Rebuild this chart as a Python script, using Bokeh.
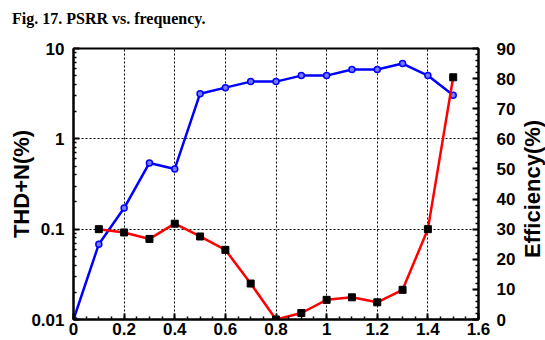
from bokeh.plotting import figure
from bokeh.models import Range1d, LinearAxis, FixedTicker, ColumnDataSource, LinearScale, Div
from bokeh.layouts import row, column
from bokeh.embed import file_html
from bokeh.resources import INLINE

# ---- data ----
title_text = "Fig. 17. PSRR vs. frequency."
x_eff = [0.0, 0.1, 0.2, 0.3, 0.4, 0.5, 0.6, 0.7, 0.8, 0.9, 1.0, 1.1, 1.2, 1.3, 1.4, 1.5]
eff = [0, 25, 37, 52, 50, 75, 77, 79, 79, 81, 81, 83, 83, 85, 81, 74.5]
x_thd = [0.1, 0.2, 0.3, 0.4, 0.5, 0.6, 0.7, 0.8, 0.9, 1.0, 1.1, 1.2, 1.3, 1.4, 1.5]
thd = [0.1, 0.092, 0.078, 0.115, 0.083, 0.059, 0.025, 0.01, 0.0118, 0.0165,
       0.0176, 0.0155, 0.0213, 0.1, 4.8]
x_ticks = [0, 0.2, 0.4, 0.6, 0.8, 1.0, 1.2, 1.4, 1.6]
x_tick_labels = ["0", "0.2", "0.4", "0.6", "0.8", "1", "1.2", "1.4", "1.6"]
y_ticks = [0.01, 0.1, 1, 10]
y_tick_labels = ["0.01", "0.1", "1", "10"]
eff_ticks = [0, 10, 20, 30, 40, 50, 60, 70, 80, 90]
y_label = "THD+N(%)"
eff_label = "Efficiency(%)"

FONT = "Liberation Sans"

p = figure(width=520, height=308, output_backend="svg", toolbar_location=None,
           x_range=Range1d(0, 1.6), y_range=Range1d(0.01, 10), y_axis_type="log",
           min_border_left=73, min_border_right=42, min_border_top=16, min_border_bottom=21)
p.extra_y_ranges = {"eff": Range1d(0, 90)}
p.extra_y_scales = {"eff": LinearScale()}

p.outline_line_color = "black"
p.outline_line_width = 2
p.background_fill_color = "white"
p.border_fill_color = "white"

def style_axis(ax):
    ax.axis_line_width = 2
    ax.axis_line_color = "black"
    ax.major_tick_in = 6
    ax.major_tick_out = 0
    ax.minor_tick_in = 3
    ax.minor_tick_out = 0
    ax.major_tick_line_width = 2
    ax.minor_tick_line_width = 1.5
    ax.major_tick_line_color = "black"
    ax.minor_tick_line_color = "black"
    ax.major_label_text_font = FONT
    ax.major_label_text_font_style = "bold"
    ax.major_label_text_font_size = "17px"
    ax.major_label_text_color = "black"
    ax.axis_label_text_font = FONT
    ax.axis_label_text_font_style = "bold"
    ax.axis_label_text_font_size = "22px"
    ax.axis_label_text_color = "black"

# x axis
xa = p.xaxis[0]
minor_x = [i * 0.05 for i in range(33)]
xa.ticker = FixedTicker(ticks=x_ticks, minor_ticks=minor_x)
xa.major_label_overrides = {t: l for t, l in zip(x_ticks, x_tick_labels)}
style_axis(xa)
xa.major_label_standoff = 3

# left log axis
ya = p.yaxis[0]
minor_y = [k * 10.0 ** e for e in (-2, -1, 0) for k in range(2, 10)]
ya.ticker = FixedTicker(ticks=y_ticks, minor_ticks=minor_y)
ya.major_label_overrides = {t: l for t, l in zip(y_ticks, y_tick_labels)}
ya.axis_label = y_label
style_axis(ya)
ya.major_label_standoff = 9
ya.axis_label_standoff = -6

# right axis (its title is drawn by the Div beside the plot, reading bottom-to-top)
ra = LinearAxis(y_range_name="eff",
                ticker=FixedTicker(ticks=eff_ticks, minor_ticks=list(range(0, 91, 2))))
style_axis(ra)
ra.major_label_text_font = "Liberation Sans Narrow, Liberation Sans"
ra.major_label_standoff = 18
p.add_layout(ra, "right")

# grids
p.xgrid.ticker = FixedTicker(ticks=x_ticks)
p.xgrid.grid_line_color = "black"
p.xgrid.grid_line_dash = "2 2"
p.xgrid.grid_line_width = 1
p.ygrid.grid_line_color = "black"
p.ygrid.grid_line_dash = "2 2"
p.ygrid.grid_line_width = 1

# series
src_eff = ColumnDataSource(dict(x=x_eff, y=eff))
src_thd = ColumnDataSource(dict(x=x_thd, y=thd))
p.line("x", "y", source=src_eff, y_range_name="eff", line_color="#0000ff", line_width=2.5)
p.scatter("x", "y", source=src_eff, y_range_name="eff", marker="circle", size=6,
          line_color="#0000ff", fill_color="#7a7aff", line_width=1.5)
p.line("x", "y", source=src_thd, line_color="#ff0000", line_width=2.5)
p.scatter("x", "y", source=src_thd, marker="square", size=7,
          line_color="black", fill_color="black")

title_div = Div(text=title_text, width=533, height=22, margin=(10, 0, 0, 12),
                styles={"font-family": "Liberation Serif", "font-weight": "bold",
                        "font-size": "16px", "line-height": "18px", "color": "black",
                        "white-space": "nowrap"})

eff_title = Div(text=eff_label, width=25, height=302, margin=(6, 0, 0, 0),
                styles={"writing-mode": "vertical-rl", "transform": "rotate(180deg)",
                        "font-family": FONT, "font-weight": "bold", "font-size": "22px",
                        "text-align": "center", "line-height": "25px", "color": "black",
                        "white-space": "nowrap"})

layout = column(title_div, row(p, eff_title))
open("out.html", "w").write(file_html(layout, INLINE))
